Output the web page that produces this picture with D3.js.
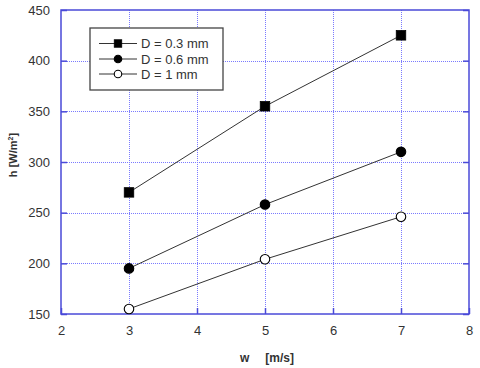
<!DOCTYPE html>
<html><head><meta charset="utf-8">
<script src="https://cdn.jsdelivr.net/npm/d3@7"></script>
<style>body{margin:0;background:#fff}svg{display:block}</style>
</head><body>
<script>
const xValues = [3, 5, 7];
const seriesNames = ["D = 0.3 mm", "D = 0.6 mm", "D = 1 mm"];
const d03 = [270, 355, 425];
const d06 = [195, 258, 310];
const d1 = [155, 204, 246];
const xTicks = [2, 3, 4, 5, 6, 7, 8];
const yTicks = [150, 200, 250, 300, 350, 400, 450];

const W = 480, H = 368;
const m = {l: 61, r: 11, t: 10, b: 54};
const svg = d3.select("body").append("svg").attr("width", W).attr("height", H);
const x = d3.scaleLinear().domain([2, 8]).range([m.l, W - m.r]);
const y = d3.scaleLinear().domain([150, 450]).range([H - m.b, m.t]);
const blue = "#4a4ad8", grid = "#7a7aff", txt = "#333";
const font = "Arial, 'Liberation Sans', sans-serif";

// grid
const g = svg.append("g");
g.selectAll(".gx").data(xTicks.slice(1, -1)).join("line")
  .attr("x1", d => x(d) + 0.5).attr("x2", d => x(d) + 0.5).attr("y1", m.t).attr("y2", H - m.b)
  .attr("stroke", grid).attr("stroke-dasharray", "1,1");
g.selectAll(".gy").data(yTicks.slice(1, -1)).join("line")
  .attr("y1", d => Math.round(y(d)) + 0.5).attr("y2", d => Math.round(y(d)) + 0.5).attr("x1", m.l).attr("x2", W - m.r)
  .attr("stroke", grid).attr("stroke-dasharray", "1,1");

// axes with inward ticks
const ax = svg.append("g").attr("transform", `translate(0,${H - m.b})`)
  .call(d3.axisBottom(x).tickValues(xTicks).tickFormat(d3.format("d")).tickSizeInner(-6).tickSizeOuter(0).tickPadding(12));
const ay = svg.append("g").attr("transform", `translate(${m.l},0)`)
  .call(d3.axisLeft(y).tickValues(yTicks).tickFormat(d3.format("d")).tickSizeInner(-6).tickSizeOuter(0).tickPadding(11));
const ayr = svg.append("g").attr("transform", `translate(${W - m.r},0)`)
  .call(d3.axisRight(y).tickValues(yTicks).tickSizeInner(-6).tickSizeOuter(0).tickFormat(""));
[ax, ay, ayr].forEach(a => {
  a.selectAll("line").attr("stroke", blue).attr("stroke-width", 1.5);
  a.select(".domain").remove();
  a.selectAll("text").attr("fill", txt).attr("font-family", font).attr("font-size", 13);
});
svg.append("rect").attr("x", m.l).attr("y", m.t).attr("width", W - m.r - m.l).attr("height", H - m.b - m.t)
  .attr("fill", "none").attr("stroke", blue).attr("stroke-width", 1.5);

// series
const series = [
  {name: seriesNames[0], vals: d03, sym: "square", fill: "#000"},
  {name: seriesNames[1], vals: d06, sym: "circle", fill: "#000"},
  {name: seriesNames[2], vals: d1, sym: "circle", fill: "#fff"}
];
const line = d3.line().x((d, i) => x(xValues[i])).y(d => y(d));
function drawSym(sel, s, cx, cy, size) {
  const h = size / 2;
  if (s.sym === "square") {
    sel.append("rect").attr("x", cx - h).attr("y", cy - h).attr("width", size).attr("height", size)
      .attr("fill", s.fill).attr("stroke", "#000").attr("stroke-width", 0.8);
  } else {
    sel.append("circle").attr("cx", cx).attr("cy", cy).attr("r", h)
      .attr("fill", s.fill).attr("stroke", "#000").attr("stroke-width", 1.1);
  }
}
series.forEach(s => {
  svg.append("path").datum(s.vals).attr("d", line).attr("fill", "none").attr("stroke", "#333").attr("stroke-width", 1);
  const gs = svg.append("g");
  s.vals.forEach((v, i) => drawSym(gs, s, x(xValues[i]), y(v), 9.5));
});

// legend
const lg = svg.append("g");
lg.append("rect").attr("x", 90).attr("y", 28).attr("width", 133).attr("height", 62)
  .attr("fill", "#fff").attr("stroke", "#444").attr("stroke-width", 1.3);
const rowsY = [43.5, 59, 74];
series.forEach((s, i) => {
  lg.append("line").attr("x1", 99).attr("x2", 137).attr("y1", rowsY[i]).attr("y2", rowsY[i]).attr("stroke", "#333");
  drawSym(lg, s, 118, rowsY[i], 7.5);
  lg.append("text").attr("x", 141).attr("y", rowsY[i]).attr("dy", "0.36em")
    .attr("font-family", font).attr("font-size", 13).attr("fill", txt).text(s.name);
});

// axis titles
svg.append("text").attr("x", 240).attr("y", 362).attr("font-family", font).attr("font-weight", "bold")
  .attr("font-size", 12).attr("fill", txt).attr("text-anchor", "start")
  .text("w").append("tspan").attr("dx", 16).text("[m/s]");
const yl = svg.append("text").attr("transform", "translate(17,155) rotate(-90)")
  .attr("text-anchor", "middle").attr("font-family", font).attr("font-weight", "bold")
  .attr("font-size", 11).attr("fill", txt);
yl.append("tspan").text("h [W/m");
yl.append("tspan").attr("font-size", 7).attr("dy", -4).text("2");
yl.append("tspan").attr("dy", 4).text("]");
</script>
</body></html>
